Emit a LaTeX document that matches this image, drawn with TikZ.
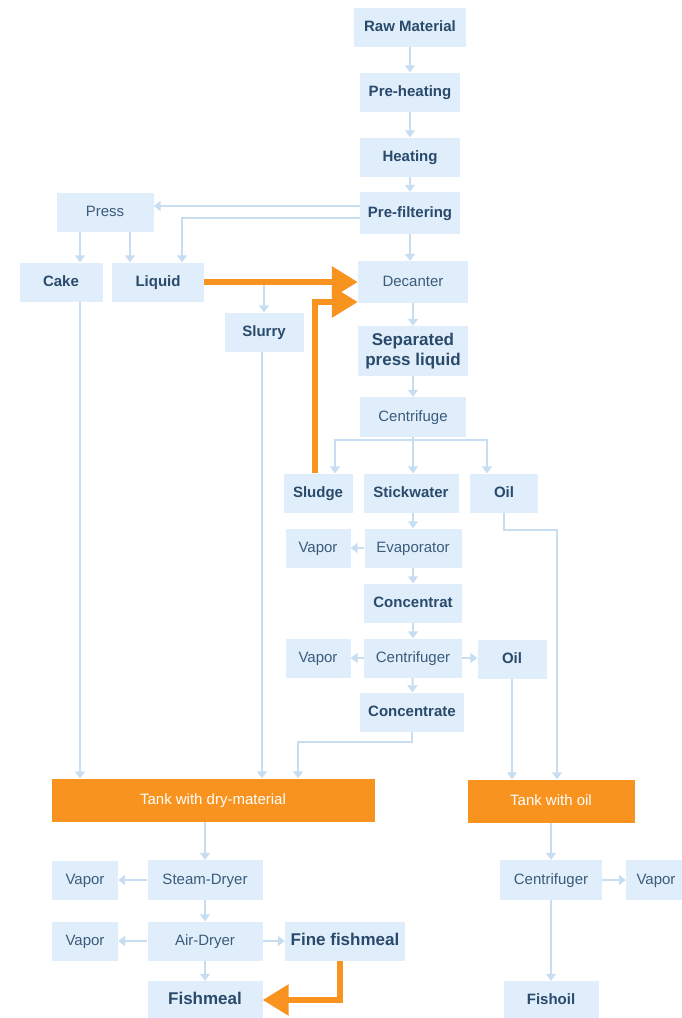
\documentclass[tikz,border=0pt]{standalone}
\usepackage{fontspec}
\setmainfont{Liberation Sans}
\usetikzlibrary{arrows.meta}
\definecolor{boxblue}{HTML}{DFEEFA}
\definecolor{txtdark}{HTML}{2A4A6C}
\definecolor{txtreg}{HTML}{3C5B7B}
\definecolor{arrblue}{HTML}{C7DEF2}
\definecolor{orng}{HTML}{F7931E}
\tikzset{
  bx/.style={fill=boxblue, text=txtreg, inner sep=0pt, minimum height=39pt, text height=10.5pt, text depth=2.5pt, font=\fontsize{15}{17}\selectfont},
  bb/.style={bx, text=txtdark, font=\fontsize{15}{17}\selectfont\bfseries},
  tank/.style={fill=orng, text=white, inner sep=0pt, minimum height=43pt, text height=10.5pt, text depth=2.5pt, font=\fontsize{15}{17}\selectfont},
  arr/.style={draw=arrblue, line width=2pt, -{Triangle[width=10pt,length=7pt]}},
  oarr/.style={draw=orng, line width=6pt, -{Triangle[width=30pt,length=26pt]}}
}
\begin{document}
\begin{tikzpicture}[x=1pt,y=-1pt]
\useasboundingbox (0,0) rectangle (681,1018);
% main column
\node[bb, minimum width=112] (raw) at (410,27) {Raw Material};
\node[bb, minimum width=100] (preh) at (410,92) {Pre-heating};
\node[bb, minimum width=100] (heat) at (410,157) {Heating};
\node[bb, minimum width=100, minimum height=42] (pref) at (410,213) {Pre-filtering};
\node[bx, minimum width=97] (press) at (105,212) {Press};
\node[bb, minimum width=83] (cake) at (61,282) {Cake};
\node[bb, minimum width=92] (liquid) at (158,282) {Liquid};
\node[bx, minimum width=110, minimum height=42] (dec) at (413,282) {Decanter};
\node[bb, minimum width=79] (slurry) at (264,332) {Slurry};
\node[bb, minimum width=110, minimum height=50, align=center, text height=, text depth=, font=\fontsize{17}{20}\selectfont\bfseries] (sep) at (413,351) {Separated\\press liquid};
\node[bx, minimum width=106, minimum height=40] (cent) at (413,417) {Centrifuge};
\node[bb, minimum width=69] (sludge) at (318,493) {Sludge};
\node[bb, minimum width=95] (stick) at (411,493) {Stickwater};
\node[bb, minimum width=68] (oila) at (504,493) {Oil};
\node[bx, minimum width=65] (vap1) at (318,548) {Vapor};
\node[bx, minimum width=97] (evap) at (413,548) {Evaporator};
\node[bb, minimum width=98] (conc) at (413,603) {Concentrat};
\node[bx, minimum width=65] (vap2) at (318,658) {Vapor};
\node[bx, minimum width=98] (centr) at (413,658) {Centrifuger};
\node[bb, minimum width=69] (oilb) at (512,659) {Oil};
\node[bb, minimum width=104] (conce) at (412,712) {Concentrate};
% tanks
\node[tank, minimum width=323] (tdry) at (213,800) {Tank with dry-material};
\node[tank, minimum width=167] (toil) at (551,801) {Tank with oil};
% bottom left
\node[bx, minimum width=66] (vap3) at (85,880) {Vapor};
\node[bx, minimum width=115, minimum height=40] (steam) at (205,880) {Steam-Dryer};
\node[bx, minimum width=66] (vap4) at (85,941) {Vapor};
\node[bx, minimum width=115] (air) at (205,941) {Air-Dryer};
\node[bb, minimum width=120, font=\fontsize{17}{20}\selectfont\bfseries] (fine) at (345,941) {Fine fishmeal};
\node[bb, minimum width=115, minimum height=38, font=\fontsize{17}{20}\selectfont\bfseries] (fishmeal) at (205,1000) {Fishmeal};
% bottom right
\node[bx, minimum width=102, minimum height=40] (centR) at (551,880) {Centrifuger};
\node[bx, minimum width=60, minimum height=40] (vapR) at (656,880) {Vapor};
\node[bb, minimum width=95, minimum height=38] (fishoil) at (551,1000) {Fishoil};
% coordinates
\coordinate (cb) at (413,440);
\coordinate (o1) at (557,530);
\coordinate (c1) at (298,742);
% light connectors
\draw[arr] (raw) -- (preh);
\draw[arr] (preh) -- (heat);
\draw[arr] (heat) -- (pref);
\draw[arr] (pref.south) -- (pref.south |- dec.north);
\draw[arr] ([yshift=7pt]pref.west) -- ([yshift=7pt]pref.west -| press.east);
\draw[arr] ([yshift=-5pt]pref.west) -| ([xshift=24pt]liquid.north);
\draw[arr] ([xshift=-25pt]press.south) -- ([xshift=-25pt]press.south |- cake.north);
\draw[arr] ([xshift=25pt]press.south) -- ([xshift=25pt]press.south |- liquid.north);
\draw[arr] (liquid.east -| slurry.north) -- (slurry.north);
\draw[arr] (dec) -- (sep);
\draw[arr] (sep) -- (cent);
\draw[arr] (cent.south) -- (cent.south |- stick.north);
\draw[arr] (cb) -| ([xshift=17pt]sludge.north);
\draw[arr] (cb) -| ([xshift=-17pt]oila.north);
\draw[arr] (stick.south -| evap.north) -- (evap.north);
\draw[arr] (evap) -- (conc);
\draw[arr] (conc) -- (centr);
\draw[arr] (centr) -- (conce);
\draw[arr] (evap) -- (vap1);
\draw[arr] (centr) -- (vap2);
\draw[arr] (centr.east) -- (centr.east -| oilb.west);
\draw[arr] (oila.south) |- (o1) -- (o1 |- toil.north);
\draw[arr] (oilb.south) -- (oilb.south |- toil.north);
\draw[arr] ([xshift=19pt]cake.south) -- ([xshift=19pt]cake.south |- tdry.north);
\draw[arr] ([xshift=-2pt]slurry.south) -- ([xshift=-2pt]slurry.south |- tdry.north);
\draw[arr] (conce.south) |- (c1) -- (c1 |- tdry.north);
\draw[arr] (steam.north |- tdry.south) -- (steam.north);
\draw[arr] (steam) -- (vap3);
\draw[arr] (steam) -- (air);
\draw[arr] (air) -- (vap4);
\draw[arr] (air) -- (fine);
\draw[arr] (air) -- (fishmeal);
\draw[arr] (centR.north |- toil.south) -- (centR.north);
\draw[arr] (centR) -- (vapR);
\draw[arr] (centR) -- (fishoil);
% orange connectors
\draw[oarr] (liquid.east) -- (liquid.east -| dec.west);
\draw[oarr] ([xshift=-3pt]sludge.north) |- ([yshift=-20pt]dec.west);
\draw[oarr] ([xshift=-5pt]fine.south) |- (fishmeal.east);
\end{tikzpicture}
\end{document}
